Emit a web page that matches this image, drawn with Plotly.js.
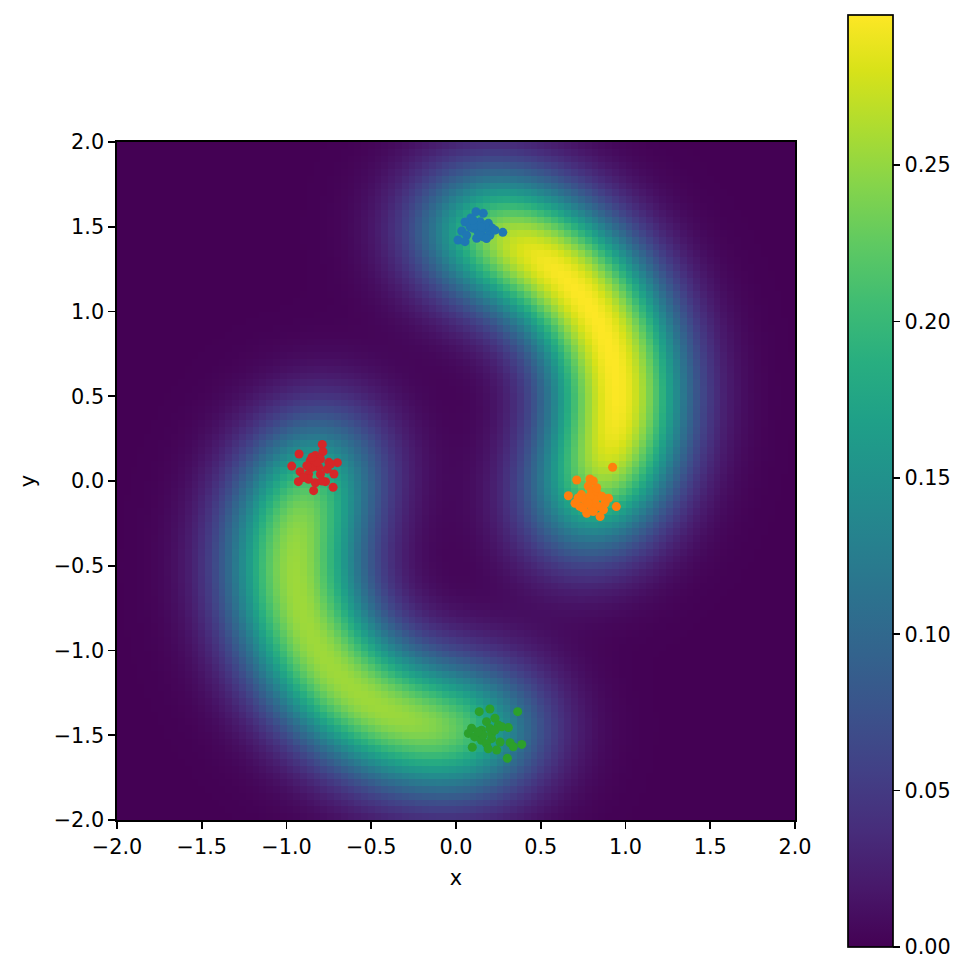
<!DOCTYPE html>
<html>
<head>
<meta charset="utf-8">
<script src="https://cdn.plot.ly/plotly-3.0.1.min.js"></script>
<style>html,body{margin:0;padding:0;background:#fff;}</style>
</head>
<body>
<div id="chart" style="width:975px;height:977px;"></div>
<script>
// ---- Density field: two arcs (parameters) ----
const arcCenterX = [0.0, 0.0];
const arcCenterY = [0.5, -0.5];
const arcRadius = [0.99, 0.99];
const arcStartDeg = [-47, 135];
const arcEndDeg = [93, 290];
const arcPeak = [0.298, 0.255];
const arcWidth = [0.285, 0.285];

// grid
const gridN = 100;
const gridMin = -2, gridMax = 2;

// ---- Scatter clusters ----
const blueX = [0.118,0.161,0.088,0.142,0.053,0.191,0.212,0.181,0.102,0.083,0.276,0.034,0.130,0.200,0.063,0.161,0.200,0.122,0.012,0.053,0.150,0.170,0.110,0.140,0.180,0.230,0.100,0.150];
const blueY = [1.589,1.579,1.552,1.530,1.528,1.520,1.493,1.491,1.491,1.500,1.467,1.475,1.470,1.470,1.451,1.441,1.450,1.432,1.422,1.412,1.480,1.510,1.510,1.455,1.430,1.480,1.540,1.500];
const orangeX = [0.924,0.712,0.790,0.810,0.780,0.800,0.663,0.702,0.740,0.830,0.900,0.946,0.880,0.850,0.771,0.730,0.800,0.840,0.760,0.820,0.860,0.790,0.750,0.810,0.720,0.870,0.780,0.830];
const orangeY = [0.081,0.006,0.012,0.000,-0.030,-0.060,-0.087,-0.132,-0.080,-0.070,-0.102,-0.151,-0.130,-0.210,-0.191,-0.150,-0.150,-0.150,-0.110,-0.110,-0.090,-0.090,-0.160,-0.180,-0.100,-0.170,-0.130,-0.040];
const greenX = [0.200,0.137,0.364,0.230,0.180,0.092,0.073,0.250,0.309,0.150,0.210,0.110,0.096,0.150,0.210,0.260,0.319,0.338,0.388,0.240,0.303,0.180,0.200,0.160,0.230,0.130,0.190,0.270];
const greenY = [-1.345,-1.361,-1.361,-1.400,-1.420,-1.459,-1.489,-1.440,-1.455,-1.470,-1.490,-1.510,-1.571,-1.530,-1.520,-1.540,-1.544,-1.568,-1.554,-1.587,-1.636,-1.550,-1.460,-1.500,-1.470,-1.480,-1.580,-1.450];
const redX = [-0.789,-0.926,-0.785,-0.830,-0.969,-0.700,-0.860,-0.800,-0.750,-0.920,-0.870,-0.810,-0.720,-0.930,-0.870,-0.830,-0.770,-0.725,-0.840,-0.790,-0.850,-0.760,-0.820,-0.880,-0.800,-0.740,-0.850,-0.900];
const redY = [0.216,0.159,0.173,0.150,0.088,0.108,0.120,0.130,0.110,0.055,0.040,0.080,0.041,-0.004,0.010,-0.010,-0.004,-0.037,-0.057,0.000,0.080,0.070,0.110,0.090,0.040,0.100,0.140,0.020];

const seriesColors = ['#1f77b4', '#ff7f0e', '#2ca02c', '#d62728'];

// ---- Build the grid ----
const step = (gridMax - gridMin) / gridN;
const xs = [], ys = [];
for (let i = 0; i < gridN; i++) { xs.push(gridMin + step * (i + 0.5)); ys.push(gridMin + step * (i + 0.5)); }
const z = ys.map(() => xs.map(() => 0));
const nSamp = 300;
for (let a = 0; a < arcRadius.length; a++) {
  const field = ys.map(() => xs.map(() => 0));
  const px = [], py = [];
  for (let k = 0; k < nSamp; k++) {
    const t = (arcStartDeg[a] + (arcEndDeg[a] - arcStartDeg[a]) * k / (nSamp - 1)) * Math.PI / 180;
    px.push(arcCenterX[a] + arcRadius[a] * Math.cos(t));
    py.push(arcCenterY[a] + arcRadius[a] * Math.sin(t));
  }
  const s2 = 2 * arcWidth[a] * arcWidth[a];
  let mx = 0;
  for (let j = 0; j < gridN; j++) for (let i = 0; i < gridN; i++) {
    let s = 0;
    for (let k = 0; k < nSamp; k++) {
      const dx = xs[i] - px[k], dy = ys[j] - py[k];
      s += Math.exp(-(dx * dx + dy * dy) / s2);
    }
    field[j][i] = s;
    if (s > mx) mx = s;
  }
  for (let j = 0; j < gridN; j++) for (let i = 0; i < gridN; i++) z[j][i] += arcPeak[a] * field[j][i] / mx;
}
let zMaxVal = 0;
z.forEach(r => r.forEach(v => { if (v > zMaxVal) zMaxVal = v; }));

const FONT = 'DejaVu Sans, Arial, sans-serif';
const FS = 20.8;

const traces = [{
  type: 'heatmap', x: xs, y: ys, z: z,
  colorscale: 'Viridis', zmin: 0, zmax: zMaxVal,
  hoverinfo: 'skip',
  colorbar: {
    x: (848 - 117) / 678, xanchor: 'left', xpad: 0, ypad: 0,
    y: 0.5, yanchor: 'middle',
    thickness: 45, thicknessmode: 'pixels',
    len: 932, lenmode: 'pixels',
    outlinewidth: 1.7, outlinecolor: '#000',
    ticks: 'outside', ticklen: 7, tickwidth: 1.7, tickcolor: '#000',
    tick0: 0, dtick: 0.05, tickformat: '.2f',
    tickfont: {family: FONT, size: FS, color: '#000'}
  }
}];
const groups = [[blueX, blueY], [orangeX, orangeY], [greenX, greenY], [redX, redY]];
groups.forEach((g, idx) => {
  traces.push({
    type: 'scatter', mode: 'markers', x: g[0], y: g[1],
    marker: {size: 9, color: seriesColors[idx], line: {width: 0}},
    showlegend: false, hoverinfo: 'skip'
  });
});

const axisCommon = {
  range: [-2, 2], tick0: -2, dtick: 0.5, tickformat: '.1f',
  ticks: 'outside', ticklen: 7, tickwidth: 1.7, tickcolor: '#000',
  showline: true, linecolor: '#000', linewidth: 1.7, mirror: true,
  showgrid: false, zeroline: false,
  tickfont: {family: FONT, size: FS, color: '#000'}
};

const layout = {
  width: 975, height: 977,
  margin: {l: 117, r: 180, t: 142, b: 157},
  paper_bgcolor: '#fff', plot_bgcolor: '#fff',
  font: {family: FONT, size: FS, color: '#000'},
  showlegend: false,
  xaxis: Object.assign({}, axisCommon, {title: {text: 'x', font: {family: FONT, size: FS, color: '#000'}, standoff: 13}}),
  yaxis: Object.assign({}, axisCommon, {title: {text: 'y', font: {family: FONT, size: FS, color: '#000'}, standoff: 12}})
};

Plotly.newPlot('chart', traces, layout, {displayModeBar: false, staticPlot: true});
</script>
</body>
</html>
